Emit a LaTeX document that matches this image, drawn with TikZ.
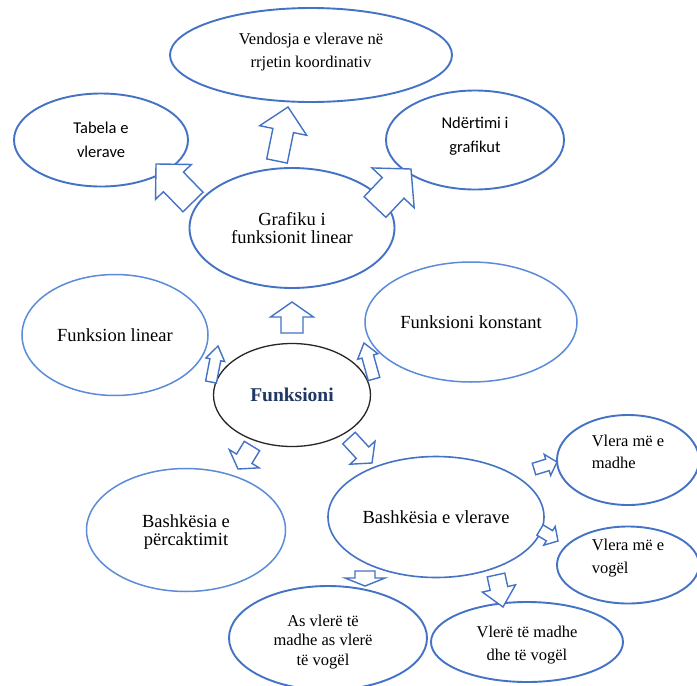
\documentclass[tikz,border=0pt]{standalone}
\usepackage{fontspec}
\setmainfont{Liberation Serif}
\newfontfamily\calibri{Carlito}
\usetikzlibrary{shapes.geometric,calc}
\definecolor{wordblue}{HTML}{4472C4}
\definecolor{lightblue}{HTML}{5B8BD9}
\definecolor{titleblue}{HTML}{1F3864}

% block arrow: tail, tip, half shaft width, half head width, head length (all in pt)
\newcommand\blockarrow[5]{%
  \coordinate (ba-h) at ($(#2)!#5pt!(#1)$);
  \draw[barrow] ($(#1)!#3pt!90:(#2)$) -- ($(ba-h)!#3pt!90:(#2)$) --
    ($(ba-h)!#4pt!90:(#2)$) -- (#2) -- ($(ba-h)!#4pt!-90:(#2)$) --
    ($(ba-h)!#3pt!-90:(#2)$) -- ($(#1)!#3pt!-90:(#2)$) -- cycle;}

\begin{document}
\begin{tikzpicture}[x=1pt,y=-1pt,
  bub/.style={ellipse, draw=wordblue, line width=1.9pt, inner sep=0pt, align=center},
  thinbub/.style={bub, draw=lightblue, line width=1.5pt},
  txt/.style={inner sep=0pt, align=center},
  serifbig/.style={font=\fontsize{18.5}{18}\selectfont},
  serifsmall/.style={font=\fontsize{16.5}{22.5}\selectfont},
  sansbox/.style={font=\calibri\fontsize{16.5}{24}\selectfont},
  barrow/.style={draw=wordblue, fill=white, line width=1.4pt, line join=miter}]
\clip (0,0) rectangle (697,686);
\fill[white] (0,0) rectangle (697,686);

% upper cluster
\node[bub, minimum width=282, minimum height=94] (vend) at (311,55) {};
\node[txt, serifsmall] (vend-t) at (311,52) {Vendosja e vlerave në\\rrjetin koordinativ};
\node[bub, sansbox, minimum width=174, minimum height=93] (tab) at (101,140)
  {Tabela e\\vlerave};
\node[bub, minimum width=178, minimum height=99] (ndert) at (475,140) {};
\node[txt, sansbox] (ndert-t) at (475,136) {Ndërtimi i\\grafikut};
\node[bub, serifbig, minimum width=205, minimum height=120] (graf) at (292,228)
  {Grafiku i\\funksionit linear};

% middle row
\node[thinbub, serifbig, minimum width=186, minimum height=121] (lin) at (115,335)
  {Funksion linear};
\node[thinbub, serifbig, minimum width=212, minimum height=120] (konst) at (471,322)
  {Funksioni konstant};
\node[ellipse, draw=black!85, line width=1.3pt, inner sep=0pt,
  minimum width=157, minimum height=103,
  font=\fontsize{19.5}{20}\selectfont\bfseries, text=titleblue] (fun) at (292,395)
  {Funksioni};

% lower cluster
\node[thinbub, minimum width=199, minimum height=123] (perc) at (186,530) {};
\node[txt, serifbig] (perc-t) at (186,532) {Bashkësia e\\përcaktimit};
\node[bub, line width=1.6pt, serifbig, minimum width=216, minimum height=121] (vler) at (436,517)
  {Bashkësia e vlerave};
\node[bub, minimum width=142, minimum height=90] (madh) at (628,460) {};
\node[txt, serifsmall, align=left] (madh-t) at (628,452) {Vlera më e\\madhe};
\node[bub, minimum width=142, minimum height=77] (vog) at (628,565) {};
\node[txt, serifsmall, align=left] (vog-t) at (628,558) {Vlera më e\\vogël};
\node[bub, minimum width=192, minimum height=80] (dhe) at (527,642) {};
\node[txt, serifsmall] (dhe-t) at (527,645) {Vlerë të madhe\\dhe të vogël};
\node[bub, minimum width=198, minimum height=104] (asv) at (328,638) {};
\node[txt, font=\fontsize{16.5}{19.5}\selectfont] (asv-t) at (323,642)
  {As vlerë të\\madhe as vlerë\\të vogël};

% arrow anchors
\coordinate (a1t) at (193,202); \coordinate (a1p) at (156,164);
\coordinate (a2t) at (277,161); \coordinate (a2p) at (288,107);
\coordinate (a3t) at (375,207); \coordinate (a3p) at (411,169);
\coordinate (a4t) at (292,333); \coordinate (a4p) at (292,302);
\coordinate (a5t) at (211,382); \coordinate (a5p) at (218,346);
\coordinate (a6t) at (374,379); \coordinate (a6p) at (364,343);
\coordinate (a7t) at (252,446); \coordinate (a7p) at (238,469);
\coordinate (a8t) at (349,438); \coordinate (a8p) at (372,463);
\coordinate (a9t) at (534,469); \coordinate (a9p) at (557,462);
\coordinate (a10t) at (540,530); \coordinate (a10p) at (558,541);
\coordinate (a11t) at (365,571); \coordinate (a11p) at (365,586);
\coordinate (a12t) at (496,575); \coordinate (a12p) at (503,607);

\blockarrow{a1t}{a1p}{14}{25}{25}
\blockarrow{a2t}{a2p}{10.5}{24}{24}
\blockarrow{a3t}{a3p}{15}{29}{26}
\blockarrow{a4t}{a4p}{11}{21.5}{15}
\blockarrow{a5t}{a5p}{5.5}{9.5}{14}
\blockarrow{a6t}{a6p}{6}{10.5}{14}
\blockarrow{a7t}{a7p}{9}{17.5}{12}
\blockarrow{a8t}{a8p}{8.5}{17}{14}
\blockarrow{a9t}{a9p}{6}{11}{10}
\blockarrow{a10t}{a10p}{6}{11}{10}
\blockarrow{a11t}{a11p}{10}{20}{8}
\blockarrow{a12t}{a12p}{9}{17}{19}
\end{tikzpicture}
\end{document}
